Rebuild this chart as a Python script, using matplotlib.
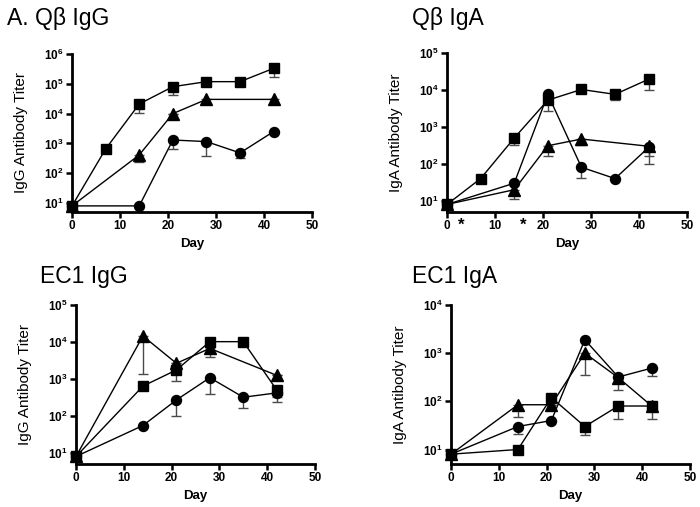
import numpy as np
import matplotlib
matplotlib.use('Agg')
import matplotlib.pyplot as plt
from matplotlib.ticker import FixedLocator, NullLocator, FuncFormatter
import matplotlib.transforms as mtransforms

plt.rcParams['font.family'] = ['Liberation Sans', 'DejaVu Sans']
plt.rcParams['mathtext.fontset'] = 'custom'
plt.rcParams['mathtext.rm'] = 'Liberation Sans'
plt.rcParams['mathtext.bf'] = 'Liberation Sans:bold'

nan = np.nan

# ---- A. Qβ IgG
qbg_sq_days = [0, 7, 14, 21, 28, 35, 42]
qbg_sq = [8, 650, 21000, 80000, 118000, 118000, 330000]
qbg_sq_lo = [nan, nan, 10700, 42000, nan, nan, 165000]
qbg_tri_days = [0, 14, 21, 28, 42]
qbg_tri = [8, 410, 10000, 30000, 30000]
qbg_tri_lo = [nan, 245, nan, 22000, 22000]
qbg_circ_days = [0, 14, 21, 28, 35, 42]
qbg_circ = [8, 8, 1300, 1150, 480, 2500]
qbg_circ_lo = [nan, nan, 630, 380, 320, nan]

# ---- Qβ IgA
qba_sq_days = [0, 7, 14, 21, 28, 35, 42]
qba_sq = [8, 40, 500, 5300, 10300, 7600, 19500]
qba_sq_lo = [nan, nan, 330, 2700, nan, 5400, 10000]
qba_tri_days = [0, 14, 21, 28, 42]
qba_tri = [8, 20, 310, 470, 300]
qba_tri_lo = [nan, 11, 160, 320, 100]
qba_circ_days = [0, 14, 21, 28, 35, 42]
qba_circ = [8, 30, 7600, 81, 40, 280]
qba_circ_lo = [nan, nan, nan, 42, nan, 160]
qba_stars = [2.9, 15.8]

# ---- EC1 IgG
ecg_sq_days = [0, 14, 21, 28, 35, 42]
ecg_sq = [8, 640, 1750, 10200, 10200, 500]
ecg_sq_lo = [nan, nan, 870, nan, nan, 330]
ecg_tri_days = [0, 14, 21, 28, 42]
ecg_tri = [8, 14500, 2650, 6700, 1250]
ecg_tri_lo = [nan, 1350, nan, 3900, nan]
ecg_circ_days = [0, 14, 21, 28, 35, 42]
ecg_circ = [8, 55, 270, 1080, 320, 420]
ecg_circ_lo = [nan, nan, 102, 390, 165, 240]

# ---- EC1 IgA
eca_sq_days = [0, 14, 21, 28, 35, 42]
eca_sq = [8, 10, 120, 30, 80, 80]
eca_sq_lo = [nan, nan, nan, 20, 42, 44]
eca_tri_days = [0, 14, 21, 28, 35, 42]
eca_tri = [8, 85, 85, 1000, 310, 80]
eca_tri_lo = [nan, 47, nan, 350, nan, nan]
eca_circ_days = [0, 14, 21, 28, 35, 42]
eca_circ = [8, 30, 40, 1900, 320, 490]
eca_circ_lo = [nan, 21, nan, nan, 172, 330]


def draw_series(ax, days, vals, lo, marker, ms):
    vals = np.array(vals, dtype=float)
    lo = np.array(lo, dtype=float)
    err = np.where(np.isnan(lo), 0, vals - lo)
    ax.errorbar(days, vals, yerr=[err, np.zeros_like(err)], fmt='none',
                ecolor='#4a4a4a', elinewidth=1, capsize=3.6, capthick=1,
                clip_on=False, zorder=2)
    ax.plot(days, vals, color='black', lw=1, marker=marker, ms=ms,
            clip_on=False, zorder=3)


def setup(ax, ytop_exp, ylabel):
    ax.set_yscale('log')
    ax.set_xlim(0, 50)
    ax.set_ylim(5, 10 ** ytop_exp)
    ax.xaxis.set_major_locator(FixedLocator([0, 10, 20, 30, 40, 50]))
    ax.yaxis.set_major_locator(FixedLocator([10 ** e for e in range(1, ytop_exp + 1)]))
    ax.yaxis.set_minor_locator(NullLocator())
    ax.yaxis.set_major_formatter(FuncFormatter(
        lambda v, p: r'$\mathbf{10^{%d}}$' % round(np.log10(v))))
    for s in ['top', 'right']:
        ax.spines[s].set_visible(False)
    for s in ['left', 'bottom']:
        ax.spines[s].set_linewidth(2)
    ax.tick_params(direction='out', length=4, width=1.8, labelsize=8.5, pad=2)
    for lab in ax.get_xticklabels():
        lab.set_fontweight('bold')
    ax.set_xlabel('Day', fontsize=9.5, fontweight='bold')
    ax.xaxis.set_label_coords(0.5, -0.165)
    ax.set_ylabel(ylabel, fontsize=11)
    ax.yaxis.set_label_coords(-0.183, 0.5)


fig = plt.figure(figsize=(7, 5.07), dpi=100)
axA = fig.add_axes([0.1029, 0.5819, 0.3429, 0.3116])
axB = fig.add_axes([0.6386, 0.5819, 0.3429, 0.3136])
axC = fig.add_axes([0.1086, 0.0848, 0.3414, 0.3136])
axD = fig.add_axes([0.6443, 0.0848, 0.3414, 0.3136])

draw_series(axA, qbg_circ_days, qbg_circ, qbg_circ_lo, 'o', 7.2)
draw_series(axA, qbg_tri_days, qbg_tri, qbg_tri_lo, '^', 8)
draw_series(axA, qbg_sq_days, qbg_sq, qbg_sq_lo, 's', 7)
setup(axA, 6, 'IgG Antibody Titer')

draw_series(axB, qba_tri_days, qba_tri, qba_tri_lo, '^', 8)
draw_series(axB, qba_sq_days, qba_sq, qba_sq_lo, 's', 7)
draw_series(axB, qba_circ_days, qba_circ, qba_circ_lo, 'o', 7.2)
setup(axB, 5, 'IgA Antibody Titer')
trans = mtransforms.blended_transform_factory(axB.transData, axB.transAxes)
for d in qba_stars:
    axB.text(d, -0.085, '*', transform=trans, ha='center', va='center',
             fontsize=12, fontweight='bold')

draw_series(axC, ecg_circ_days, ecg_circ, ecg_circ_lo, 'o', 7.2)
draw_series(axC, ecg_sq_days, ecg_sq, ecg_sq_lo, 's', 7)
draw_series(axC, ecg_tri_days, ecg_tri, ecg_tri_lo, '^', 8)
setup(axC, 5, 'IgG Antibody Titer')

draw_series(axD, eca_tri_days, eca_tri, eca_tri_lo, '^', 8)
draw_series(axD, eca_circ_days, eca_circ, eca_circ_lo, 'o', 7.2)
draw_series(axD, eca_sq_days, eca_sq, eca_sq_lo, 's', 7)
setup(axD, 4, 'IgA Antibody Titer')

# panel titles
fig.text(7 / 700, 1 - 25 / 507, 'A. Qβ IgG', fontsize=16.5, va='baseline')
fig.text(412 / 700, 1 - 25 / 507, 'Qβ IgA', fontsize=16.5, va='baseline')
fig.text(40 / 700, 1 - 283 / 507, 'EC1 IgG', fontsize=16.5, va='baseline')
fig.text(412 / 700, 1 - 283 / 507, 'EC1 IgA', fontsize=16.5, va='baseline')

fig.savefig('out.png', dpi=100)
